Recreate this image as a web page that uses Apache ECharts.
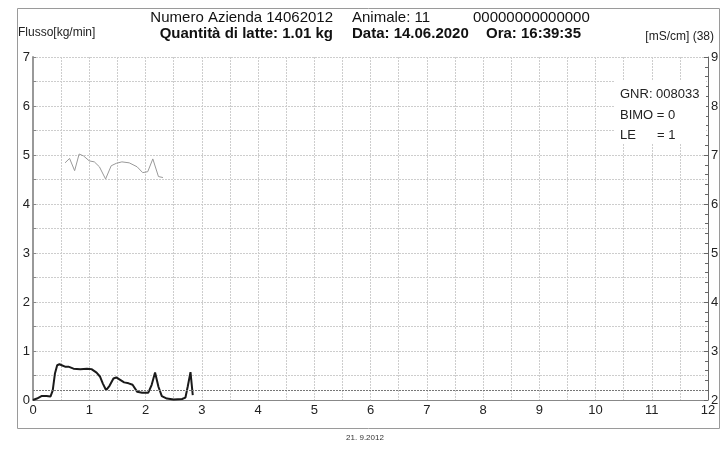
<!DOCTYPE html>
<html>
<head>
<meta charset="utf-8">
<script src="https://cdn.jsdelivr.net/npm/echarts@6/dist/echarts.min.js"></script>
<style>
  html, body { margin: 0; padding: 0; background: #fff; }
  #chart { width: 721px; height: 451px; }
</style>
</head>
<body>
<div id="chart"></div>
<script>
// milk flow [kg/min] over time [min]
const flowTime = [0, 0.07, 0.15, 0.24, 0.31, 0.35, 0.39, 0.43, 0.47, 0.51, 0.57, 0.63, 0.72, 0.84, 0.96, 1.04, 1.13, 1.19, 1.24, 1.30, 1.36, 1.43, 1.48, 1.55, 1.62, 1.70, 1.77, 1.85, 1.94, 2.05, 2.11, 2.17, 2.23, 2.29, 2.38, 2.50, 2.65, 2.71, 2.75, 2.80, 2.84];
const flowValue = [0, 0.03, 0.08, 0.08, 0.07, 0.19, 0.54, 0.71, 0.73, 0.71, 0.68, 0.68, 0.64, 0.63, 0.64, 0.63, 0.56, 0.48, 0.34, 0.20, 0.29, 0.44, 0.46, 0.41, 0.36, 0.34, 0.31, 0.17, 0.15, 0.15, 0.31, 0.56, 0.27, 0.08, 0.03, 0.01, 0.02, 0.05, 0.27, 0.57, 0.10];

// conductivity [mS/cm] over time [min]
const condTime = [0.57, 0.65, 0.74, 0.82, 0.90, 1.00, 1.09, 1.18, 1.29, 1.39, 1.48, 1.58, 1.71, 1.85, 1.95, 2.04, 2.13, 2.23, 2.31];
const condValue = [6.84, 6.93, 6.68, 7.02, 6.98, 6.88, 6.86, 6.76, 6.51, 6.78, 6.83, 6.86, 6.84, 6.76, 6.64, 6.66, 6.92, 6.56, 6.54];

const flowThreshold = 0.2;

const FONT = 'Liberation Sans, Arial, sans-serif';

const chart = echarts.init(document.getElementById('chart'));

chart.setOption({
    animation: false,
    textStyle: { fontFamily: FONT },
    grid: { left: 33, right: 13, top: 57, bottom: 51, containLabel: false, outerBoundsMode: 'none' },
    graphic: [
        // outer frame
        { type: 'rect', shape: { x: 17.5, y: 8.5, width: 702, height: 420 },
          style: { fill: 'none', stroke: '#9a9a9a', lineWidth: 1 } },
        { type: 'text', left: 18, top: 27, style: { text: 'Flusso[kg/min]', font: '12px ' + FONT, fill: '#222' } },
        { type: 'text', right: 7, top: 31, style: { text: '[mS/cm] (38)', font: '12px ' + FONT, fill: '#222' } },
        // header, first column right aligned
        { type: 'text', x: 333, y: 10, style: { text: 'Numero Azienda 14062012', font: '15px ' + FONT, fill: '#111', align: 'right' } },
        { type: 'text', x: 352, y: 10, style: { text: 'Animale: 11', font: '15px ' + FONT, fill: '#111' } },
        { type: 'text', x: 473, y: 10, style: { text: '00000000000000', font: '15px ' + FONT, fill: '#111' } },
        { type: 'text', x: 333, y: 26, style: { text: 'Quantità di latte: 1.01 kg', font: 'bold 15px ' + FONT, fill: '#111', align: 'right' } },
        { type: 'text', x: 352, y: 26, style: { text: 'Data: 14.06.2020', font: 'bold 15px ' + FONT, fill: '#111' } },
        { type: 'text', x: 486, y: 26, style: { text: 'Ora: 16:39:35', font: 'bold 15px ' + FONT, fill: '#111' } },
        // info box, white backing over the grid
        { type: 'rect', z: 10, shape: { x: 615, y: 81, width: 91, height: 62 }, style: { fill: '#fff' } },
        { type: 'text', z: 11, x: 620, y: 88, style: { text: 'GNR: 008033', font: '13px ' + FONT, fill: '#222' } },
        { type: 'text', z: 11, x: 620, y: 109, style: { text: 'BIMO = 0', font: '13px ' + FONT, fill: '#222' } },
        { type: 'text', z: 11, x: 620, y: 129, style: { text: 'LE', font: '13px ' + FONT, fill: '#222' } },
        { type: 'text', z: 11, x: 657, y: 129, style: { text: '= 1', font: '13px ' + FONT, fill: '#222' } },
        { type: 'text', x: 365, y: 434, style: { text: '21. 9.2012', font: '8px ' + FONT, fill: '#333', align: 'center' } }
    ],
    xAxis: {
        type: 'value',
        min: 0, max: 12, interval: 1,
        name: 'Durata mungitura [min]',
        nameLocation: 'end',
        nameGap: 0,
        nameTextStyle: { fontSize: 12, color: '#222', align: 'right', verticalAlign: 'top', padding: [15, 0, 0, 0] },
        axisLine: { lineStyle: { color: '#888', width: 1 } },
        axisTick: { show: false },
        axisLabel: { fontSize: 13, color: '#222', margin: 4 },
        splitLine: { show: true, lineStyle: { color: '#cdcdcd', type: [2, 1], width: 1 } },
        minorTick: { show: false, splitNumber: 2 },
        minorSplitLine: { show: true, lineStyle: { color: '#cdcdcd', type: [2, 1], width: 1 } }
    },
    yAxis: [
        {
            type: 'value',
            min: 0, max: 7, interval: 1,
            position: 'left',
            axisLine: { show: true, lineStyle: { color: '#999', width: 2 } },
            axisTick: { show: true, inside: true, length: 3, lineStyle: { color: '#888' } },
            minorTick: { show: true, splitNumber: 2, length: 3, lineStyle: { color: '#888' } },
            axisLabel: { fontSize: 13, color: '#222', margin: 3 },
            splitLine: { show: true, lineStyle: { color: '#cdcdcd', type: [2, 1], width: 1 } },
            minorSplitLine: { show: true, lineStyle: { color: '#cdcdcd', type: [2, 1], width: 1 } }
        },
        {
            type: 'value',
            min: 2, max: 9, interval: 1,
            position: 'right',
            axisLine: { show: true, lineStyle: { color: '#666', width: 1 } },
            axisTick: { show: true, inside: true, length: 4, lineStyle: { color: '#666' } },
            minorTick: { show: true, splitNumber: 5, length: 3, lineStyle: { color: '#666' } },
            axisLabel: { fontSize: 13, color: '#222', margin: 3 },
            splitLine: { show: false }
        }
    ],
    series: [
        {
            name: 'Conducibilità',
            type: 'line',
            yAxisIndex: 1,
            data: condTime.map((t, i) => [t, condValue[i]]),
            showSymbol: false,
            lineStyle: { color: '#999', width: 1 }
        },
        {
            name: 'Flusso',
            type: 'line',
            yAxisIndex: 0,
            data: flowTime.map((t, i) => [t, flowValue[i]]),
            showSymbol: false,
            lineStyle: { color: '#1a1a1a', width: 2 },
            markLine: {
                silent: true,
                symbol: 'none',
                label: { show: false },
                lineStyle: { color: '#777', type: [2, 1], width: 1 },
                data: [{ yAxis: flowThreshold }]
            }
        }
    ]
});
</script>
</body>
</html>
